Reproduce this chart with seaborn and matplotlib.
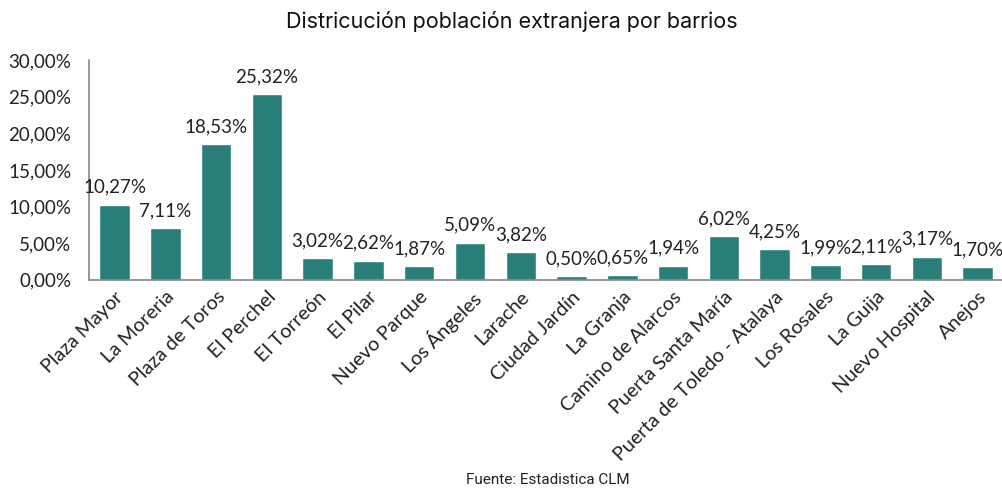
import pandas as pd
import matplotlib
matplotlib.use("Agg")
import matplotlib.pyplot as plt
import seaborn as sns
from matplotlib.ticker import FuncFormatter

# Data
barrios = ["Plaza Mayor", "La Moreria", "Plaza de Toros", "El Perchel", "El Torreón",
           "El Pilar", "Nuevo Parque", "Los Ángeles", "Larache", "Ciudad Jardín",
           "La Granja", "Camino de Alarcos", "Puerta Santa María",
           "Puerta de Toledo - Atalaya", "Los Rosales", "La Guija",
           "Nuevo Hospital", "Anejos"]
porcentajes = [10.27, 7.11, 18.53, 25.32, 3.02, 2.62, 1.87, 5.09, 3.82, 0.50,
               0.65, 1.94, 6.02, 4.25, 1.99, 2.11, 3.17, 1.70]

df = pd.DataFrame({"barrio": barrios, "pct": porcentajes})

sns.set_style("white")
plt.rcParams["font.family"] = ["Lato", "DejaVu Sans"]

fig = plt.figure(figsize=(10.03, 4.91), dpi=100)
ax = fig.add_axes([0.089, 0.430, 0.911, 0.448])

sns.barplot(data=df, x="barrio", y="pct", color="#2A7F7A", width=0.6,
            saturation=1, ax=ax)

def fmt(v):
    return f"{v:.2f}".replace(".", ",") + "%"

for i, v in enumerate(porcentajes):
    ax.text(i, v + 1.2, fmt(v), ha="center", va="bottom", fontsize=13.5, color="#222222")

ax.set_ylim(0, 30)
ax.set_yticks(range(0, 31, 5))
ax.yaxis.set_major_formatter(FuncFormatter(lambda v, p: fmt(v)))
ax.set_xlim(-0.5, len(barrios) - 0.5)
ax.set_xlabel("")
ax.set_ylabel("")
ax.tick_params(axis="y", labelsize=13.5, pad=13, length=0, colors="#222222")
ax.tick_params(axis="x", labelsize=14.2, length=0, pad=6, colors="#222222")
plt.setp(ax.get_xticklabels(), rotation=45, ha="right", rotation_mode="anchor")

for s in ["top", "right"]:
    ax.spines[s].set_visible(False)
for s in ["left", "bottom"]:
    ax.spines[s].set_color("#888888")
    ax.spines[s].set_linewidth(1.2)

fig.text(0.51, 0.957, "Districución población extranjera por barrios", ha="center",
         va="center", fontsize=15.5, family=["Inter", "DejaVu Sans"], color="#111111")
fig.text(0.546, 0.022, "Fuente: Estadistica CLM", ha="center", va="center",
         fontsize=11, family=["Roboto", "DejaVu Sans"], color="#222222")

plt.savefig("out.png", dpi=100)
